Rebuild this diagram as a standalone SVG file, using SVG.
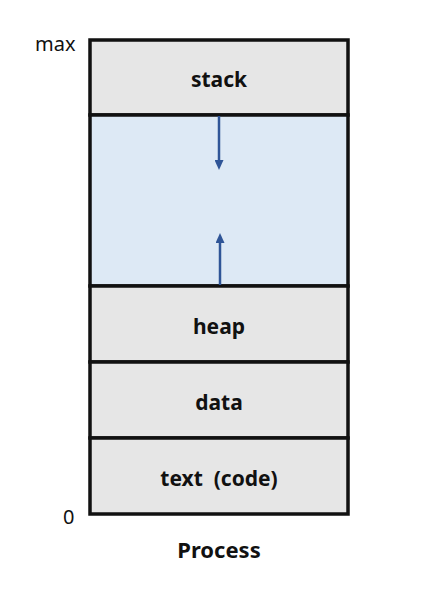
<svg xmlns="http://www.w3.org/2000/svg" width="448" height="596" viewBox="0 0 448 596">
<style>
.seg{fill:#e6e6e6;stroke:#111;stroke-width:3.5}
.free{fill:#dde9f5;stroke:#111;stroke-width:3.5}
.lbl{font-family:"Noto Sans","Liberation Sans",sans-serif;font-weight:bold;font-size:21px;fill:#111;text-anchor:middle}
.ax{font-family:"Noto Sans","Liberation Sans",sans-serif;font-size:20px;fill:#111}
.arr{stroke:#2f5597;stroke-width:2.5;fill:none}
</style>
<defs>
<marker id="ah" markerWidth="10" markerHeight="9" refX="5" refY="4.5" orient="auto" markerUnits="userSpaceOnUse">
<path d="M0,0 L10,4.5 L0,9 Z" fill="#2f5597"/>
</marker>
</defs>
<rect x="0" y="0" width="448" height="596" fill="#fff"/>
<g id="stack"><rect class="seg" x="90" y="40" width="258" height="75"/><text class="lbl" x="219" y="87">stack</text></g>
<g id="free"><rect class="free" x="90" y="115" width="258" height="171"/></g>
<g id="heap"><rect class="seg" x="90" y="286" width="258" height="76"/><text class="lbl" x="219" y="334">heap</text></g>
<g id="data"><rect class="seg" x="90" y="362" width="258" height="76"/><text class="lbl" x="219" y="410">data</text></g>
<g id="text"><rect class="seg" x="90" y="438" width="258" height="76"/><text class="lbl" x="219" y="486" style="white-space:pre">text  (code)</text></g>
<g id="connectors">
<line class="arr" x1="219" y1="116" x2="219" y2="165" marker-end="url(#ah)"/>
<line class="arr" x1="220" y1="285" x2="220" y2="238" marker-end="url(#ah)"/>
</g>
<text class="ax" x="35" y="51">max</text>
<text class="ax" x="63" y="524">0</text>
<text class="lbl" x="219" y="558" style="font-size:22px">Process</text>
</svg>
